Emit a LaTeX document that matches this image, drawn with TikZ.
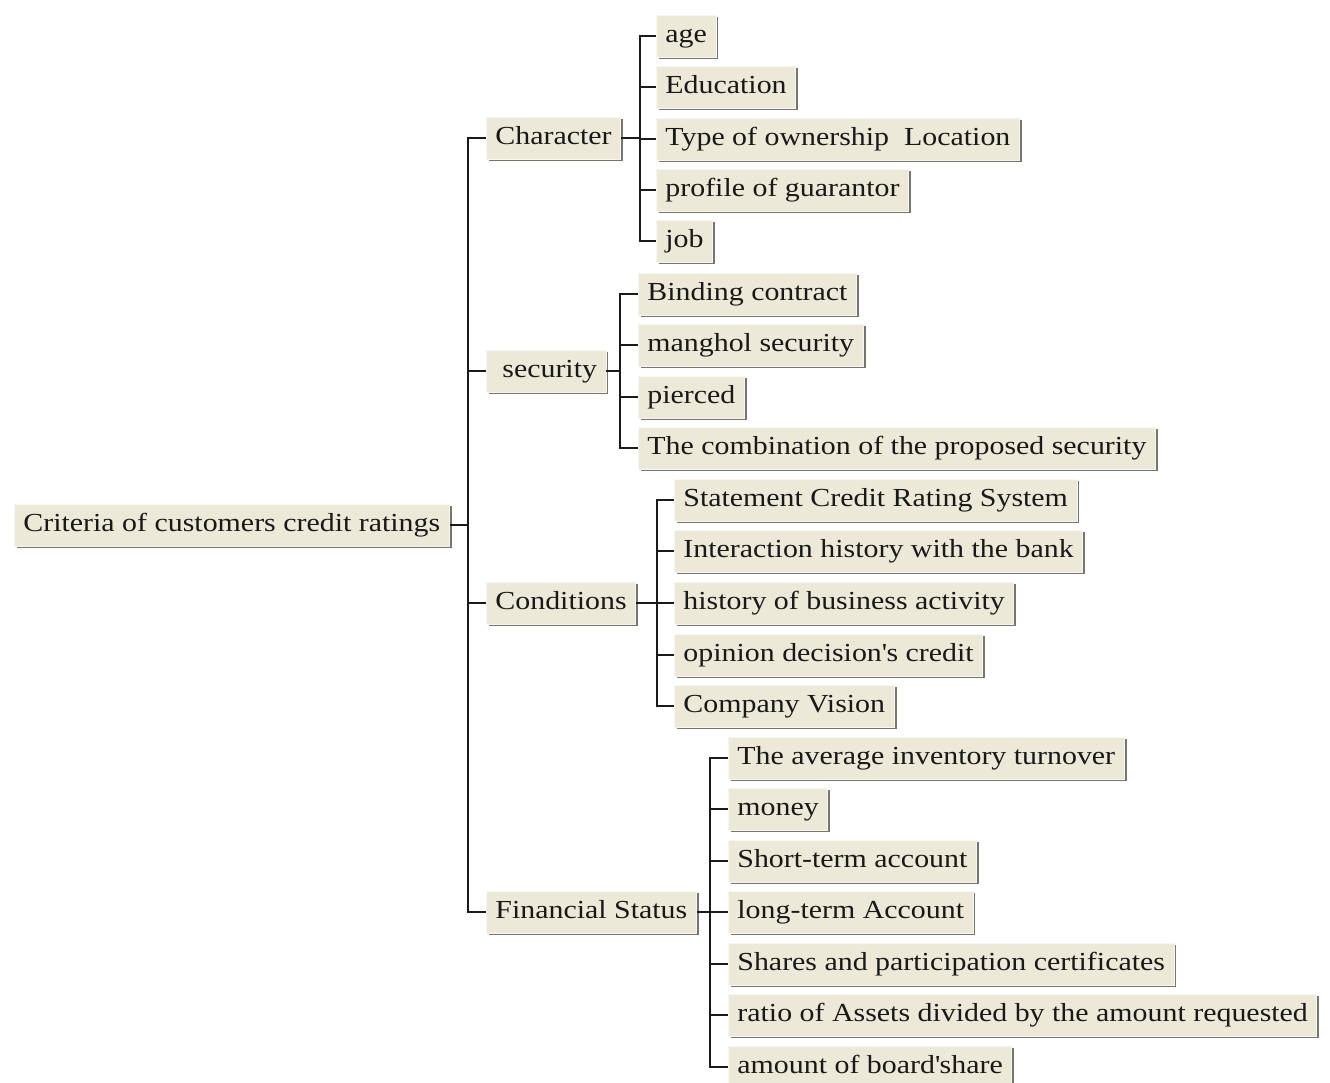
\documentclass[tikz,border=0pt]{standalone}
\usepackage{fontspec}
\setmainfont{Liberation Serif}[FakeStretch=1.15]
\usepackage{tikz}
\usetikzlibrary{shadows}
\definecolor{boxbg}{HTML}{ECE9D8}
\definecolor{boxdark}{HTML}{77756C}
\definecolor{boxlight}{HTML}{F7F6F1}
\definecolor{linecol}{HTML}{1A1A1A}
\tikzstyle{crit}=[fill=boxbg, draw=boxlight, line width=0.8pt, anchor=west, inner xsep=9pt, text height=19pt, text depth=6pt, minimum height=42pt, font=\fontsize{26}{30}\selectfont, text=black!90, drop shadow={shadow xshift=2.4pt, shadow yshift=-2.4pt, fill=boxdark, opacity=1}]
\tikzstyle{link}=[draw=linecol, line width=1.9pt]

\begin{document}
\begin{tikzpicture}[x=1pt, y=-1pt]
		\useasboundingbox (0,0) rectangle (1330,1082);
		\node[crit] (root) at (14,525) {Criteria of customers credit ratings};
		\node[crit] (char) at (486,138) {Character};
		\node[crit] (sec) at (486,371) {\hspace*{7pt}security};
		\node[crit] (cond) at (486,603) {Conditions};
		\node[crit] (fin) at (486,912) {Financial Status};
		\node[crit] (age) at (656,36) {age};
		\node[crit] (edu) at (656,87) {Education};
		\node[crit] (own) at (656,139) {Type of ownership~ Location};
		\node[crit] (guar) at (656,190) {profile of guarantor};
		\node[crit] (job) at (656,241) {job};
		\node[crit] (bind) at (638,294) {Binding contract};
		\node[crit] (mang) at (638,345) {manghol security};
		\node[crit] (pier) at (638,397) {pierced};
		\node[crit] (comb) at (638,448) {The combination of the proposed security};
		\node[crit] (stat) at (674,500) {Statement Credit Rating System};
		\node[crit] (inter) at (674,551) {Interaction history with the bank};
		\node[crit] (hist) at (674,603) {history of business activity};
		\node[crit] (opin) at (674,655) {opinion decision\textquotesingle s credit};
		\node[crit] (vis) at (674,706) {Company Vision};
		\node[crit] (inv) at (728,758) {The average inventory turnover};
		\node[crit] (money) at (728,809) {money};
		\node[crit] (short) at (728,861) {Short-term account};
		\node[crit] (long) at (728,912) {long-term Account};
		\node[crit] (shares) at (728,964) {Shares and participation certificates};
		\node[crit] (ratio) at (728,1015) {ratio of Assets divided by the amount requested};
		\node[crit] (board) at (728,1067) {amount of board\textquotesingle share};
		\foreach \c in {char,sec,cond,fin} \draw[link] (\c.west) -- ++(-18,0) |- (root.east);
		\foreach \c in {age,edu,own,guar,job} \draw[link] (\c.west) -- ++(-16,0) |- (char.east);
		\foreach \c in {bind,mang,pier,comb} \draw[link] (\c.west) -- ++(-18,0) |- (sec.east);
		\foreach \c in {stat,inter,hist,opin,vis} \draw[link] (\c.west) -- ++(-17,0) |- (cond.east);
		\foreach \c in {inv,money,short,long,shares,ratio,board} \draw[link] (\c.west) -- ++(-18,0) |- (fin.east);
	\end{tikzpicture}
\end{document}
